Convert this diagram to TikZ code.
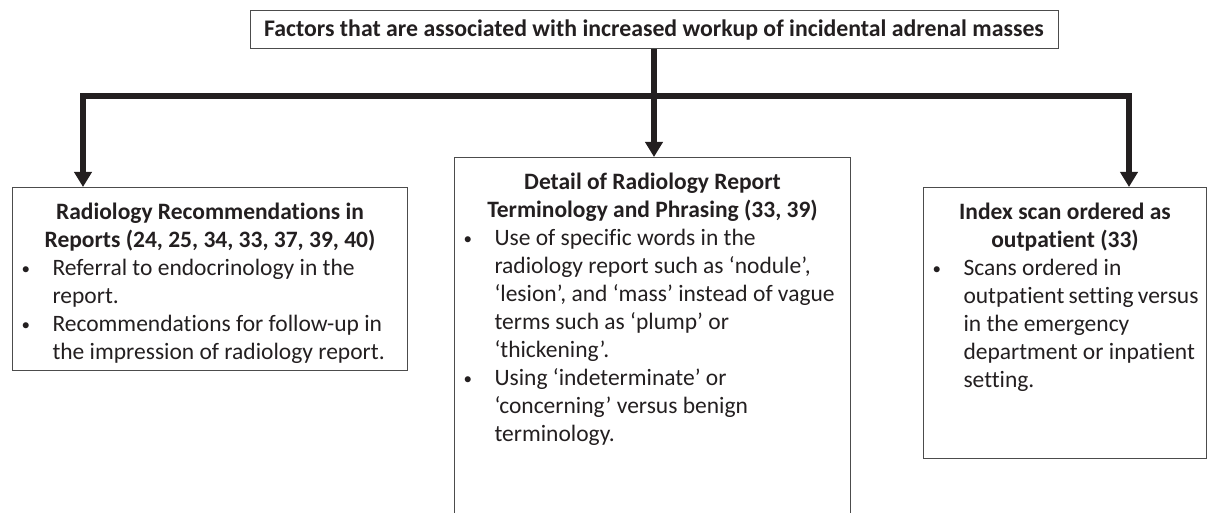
\documentclass[tikz,border=0pt]{standalone}
\usepackage{fontspec}
\setmainfont[Ligatures={TeX,NoCommon}]{Carlito}
\usetikzlibrary{arrows.meta}
\definecolor{ink}{RGB}{35,31,32}
\newcommand{\bul}[1]{\par\hangindent=32pt\hangafter=1\noindent\makebox[32pt][l]{\hspace{1pt}\raisebox{1pt}{\fontsize{17}{17}\selectfont\textbullet}}#1}
\newcommand{\heading}[2]{{\centering\bfseries\rule{0pt}{32pt}#1\\ #2\par}}

\begin{document}
\begin{tikzpicture}[x=1pt, y=-1pt, font=\fontsize{23.5}{28}\selectfont, text=ink,
  box/.style={draw=black!70, line width=1pt, inner xsep=8pt, inner ysep=0pt, anchor=north west},
  conn/.style={ink, line width=6pt, -{Triangle[width=17pt,length=15pt]}}]
\useasboundingbox (0,0) rectangle (1215,513);
\clip (0,0) rectangle (1215,513);
% title
\node[draw=black!70, line width=1pt, minimum width=808pt, minimum height=38pt, inner sep=0pt, font=\fontsize{23.8}{28}\selectfont\bfseries] (top) at (654,30) {Factors that are associated with increased workup of incidental adrenal masses};
% three factor boxes
\node[box] (rec) at (12,187) {\parbox[t][183pt][t]{379pt}{%
  \heading{Radiology Recommendations in}{Reports (24, 25, 34, 33, 37, 39, 40)}
  \bul{Referral to endocrinology in the\\ report.}
  \bul{Recommendations for follow-up in\\ the impression of radiology report.}}};
\node[box] (mid) at (454,157) {\parbox[t][380pt][t]{380pt}{%
  \heading{Detail of Radiology Report}{Terminology and Phrasing (33, 39)}
  \bul{Use of specific words in the\\ radiology report such as `nodule',\\ `lesion', and `mass' instead of vague\\ terms such as `plump' or\\ `thickening'.}
  \bul{Using `indeterminate' or\\ `concerning' versus benign\\ terminology.}}};
\node[box] (idx) at (923,187) {\parbox[t][271pt][t]{267pt}{%
  \heading{Index scan ordered as}{outpatient (33)}
  \bul{Scans ordered in\\ outpatient setting versus\\ in the emergency\\ department or inpatient\\ setting.}}};
% connectors
\coordinate (lturn) at (83,96);
\coordinate (rturn) at (1129,96);
\draw[conn] (top.south) -- (top.south |- mid.north);
\draw[conn, {Triangle[width=17pt,length=15pt]}-{Triangle[width=17pt,length=15pt]}] (rec.north -| lturn) -- (lturn) -- (rturn) -- (idx.north -| rturn);
\end{tikzpicture}
\end{document}
